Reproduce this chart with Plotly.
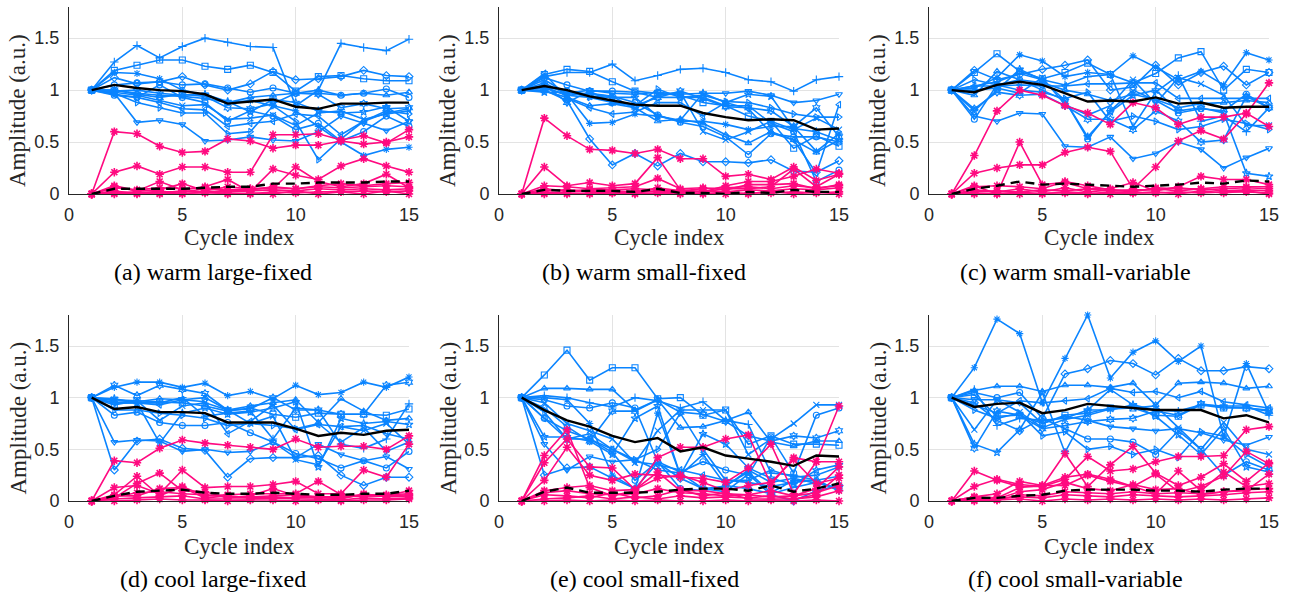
import plotly.graph_objects as go

cycles = list(range(1, 16))
x_ticks = [0, 5, 10, 15]
y_ticks = [0, 0.5, 1, 1.5]
y_tick_labels = ["0", "0.5", "1", "1.5"]
captions = ["(a) warm large-fixed", "(b) warm small-fixed", "(c) warm small-variable",
            "(d) cool large-fixed", "(e) cool small-fixed", "(f) cool small-variable"]
blue_symbols = ["cross-thin-open", "square-open", "diamond-open", "asterisk-open", "triangle-down-open",
                "circle-open", "triangle-right-open", "triangle-up-open", "x-thin-open",
                "triangle-left-open", "hexagram-open", "star-open", "circle-open"]

# ---------------- (a) warm large-fixed ----------------
a_blue = [
    [1, 1.27, 1.43, 1.31, 1.42, 1.50, 1.46, 1.42, 1.41, 0.85, 1.00, 1.45, 1.41, 1.38, 1.49],
    [1, 1.19, 1.24, 1.29, 1.29, 1.23, 1.20, 1.24, 1.17, 0.99, 1.13, 1.14, 1.11, 1.09, 1.09],
    [1, 1.12, 1.06, 1.08, 1.13, 1.05, 1.00, 1.06, 1.18, 1.10, 1.11, 1.13, 1.19, 1.14, 1.13],
    [1, 1.17, 1.16, 1.11, 1.00, 0.95, 0.88, 0.90, 0.85, 0.80, 0.65, 0.50, 0.37, 0.43, 0.45],
    [1, 0.97, 0.69, 0.71, 0.67, 0.51, 0.52, 0.55, 0.52, 0.51, 0.60, 0.75, 0.68, 0.61, 0.70],
    [1, 1.05, 1.07, 1.08, 1.05, 1.06, 1.02, 0.98, 1.02, 0.97, 0.97, 0.95, 0.97, 1.01, 0.93],
    [1, 0.97, 0.88, 0.83, 0.78, 0.78, 0.58, 0.60, 0.85, 0.70, 0.33, 0.53, 0.70, 0.80, 0.77],
    [1, 1.00, 0.97, 0.95, 0.94, 0.92, 0.88, 0.93, 0.95, 0.97, 1.00, 0.95, 0.97, 0.95, 0.98],
    [1, 0.98, 0.95, 0.90, 0.85, 0.86, 0.72, 0.73, 0.76, 0.66, 0.78, 0.80, 0.72, 0.77, 0.80],
    [1, 0.96, 0.93, 0.88, 0.82, 0.81, 0.65, 0.68, 0.70, 0.77, 0.75, 0.57, 0.70, 0.78, 0.82],
    [1, 1.00, 0.96, 0.93, 0.96, 0.94, 0.83, 0.82, 0.87, 0.97, 0.96, 0.83, 0.87, 0.82, 0.83],
    [1, 0.99, 1.00, 0.97, 0.95, 0.96, 0.89, 0.79, 0.91, 0.88, 0.80, 0.78, 0.79, 0.84, 0.70],
    [1, 0.95, 0.93, 1.05, 0.93, 0.88, 0.70, 0.80, 0.75, 0.62, 0.68, 0.51, 0.60, 0.75, 0.65],
]
a_pink = [
    [0, 0.60, 0.58, 0.46, 0.40, 0.41, 0.53, 0.51, 0.44, 0.47, 0.47, 0.51, 0.48, 0.50, 0.55],
    [0, 0.21, 0.27, 0.19, 0.26, 0.26, 0.21, 0.21, 0.57, 0.57, 0.58, 0.52, 0.56, 0.49, 0.62],
    [0, 0.08, 0.03, 0.12, 0.04, 0.07, 0.14, 0.02, 0.24, 0.18, 0.14, 0.27, 0.34, 0.27, 0.21],
    [0, 0.07, 0.03, 0.04, 0.10, 0.03, 0.07, 0.05, 0.05, 0.26, 0.12, 0.07, 0.10, 0.19, 0.06],
    [0, 0.02, 0.01, 0.02, 0.02, 0.05, 0.03, 0.04, 0.07, 0.05, 0.08, 0.10, 0.08, 0.10, 0.11],
    [0, 0.01, 0.02, 0.01, 0.03, 0.02, 0.02, 0.03, 0.04, 0.03, 0.05, 0.04, 0.05, 0.04, 0.05],
    [0, 0.00, 0.01, 0.00, 0.01, 0.01, 0.01, 0.00, 0.02, 0.01, 0.02, 0.02, 0.03, 0.02, 0.03],
    [0, 0.03, 0.00, 0.03, 0.00, 0.02, 0.00, 0.01, 0.00, 0.03, 0.00, 0.02, 0.00, 0.03, 0.00],
    [0, 0.06, 0.04, 0.06, 0.05, 0.06, 0.04, 0.05, 0.06, 0.05, 0.07, 0.06, 0.07, 0.08, 0.07],
]
a_mean = [1, 1.05, 1.02, 1.00, 0.99, 0.96, 0.87, 0.89, 0.91, 0.84, 0.82, 0.87, 0.87, 0.88, 0.88]
a_pink_mean = [0, 0.05, 0.05, 0.05, 0.05, 0.06, 0.07, 0.07, 0.10, 0.10, 0.11, 0.11, 0.11, 0.12, 0.12]

# ---------------- (b) warm small-fixed ----------------
b_blue = [
    [1, 1.13, 1.17, 1.17, 1.25, 1.09, 1.14, 1.20, 1.21, 1.17, 1.10, 1.08, 0.99, 1.10, 1.13],
    [1, 1.15, 1.20, 1.18, 1.08, 0.99, 0.97, 0.95, 0.88, 0.85, 0.75, 0.70, 0.44, 0.56, 0.46],
    [1, 1.00, 0.90, 0.53, 0.28, 0.39, 0.27, 0.39, 0.31, 0.31, 0.30, 0.33, 0.22, 0.21, 0.32],
    [1, 1.07, 0.96, 0.68, 0.69, 0.77, 0.75, 0.70, 0.70, 0.67, 0.62, 0.65, 0.65, 0.41, 0.58],
    [1, 1.10, 0.97, 1.00, 0.97, 0.96, 0.98, 0.96, 0.97, 0.97, 0.99, 0.95, 0.88, 0.90, 0.96],
    [1, 1.12, 1.05, 0.99, 0.99, 0.98, 0.93, 0.93, 0.93, 0.85, 0.85, 0.68, 0.60, 0.12, 0.23],
    [1, 1.03, 0.95, 0.93, 0.88, 0.85, 1.01, 0.93, 0.95, 0.89, 0.88, 0.83, 0.77, 0.74, 0.74],
    [1, 0.99, 0.93, 0.85, 0.87, 0.83, 0.70, 0.72, 0.68, 0.57, 0.49, 0.60, 0.52, 0.40, 0.52],
    [1, 1.02, 0.95, 0.97, 0.94, 0.82, 0.95, 0.98, 0.60, 0.52, 0.60, 0.70, 0.62, 0.73, 0.62],
    [1, 1.16, 0.92, 0.83, 0.77, 0.79, 0.88, 0.88, 0.75, 0.88, 0.82, 0.59, 0.52, 0.20, 0.86],
    [1, 1.05, 0.88, 0.99, 0.88, 0.85, 0.93, 0.99, 0.92, 0.84, 0.83, 0.80, 0.65, 0.83, 0.55],
    [1, 0.98, 0.98, 0.94, 0.93, 0.93, 0.75, 0.71, 0.97, 0.88, 0.96, 0.94, 0.63, 0.60, 0.52],
    [1, 1.03, 0.99, 0.96, 0.94, 0.88, 0.76, 0.69, 0.65, 0.55, 0.38, 0.58, 0.55, 0.55, 0.50],
]
b_pink = [
    [0, 0.73, 0.56, 0.43, 0.42, 0.39, 0.43, 0.34, 0.34, 0.17, 0.19, 0.14, 0.26, 0.13, 0.19],
    [0, 0.26, 0.08, 0.11, 0.08, 0.10, 0.35, 0.04, 0.02, 0.08, 0.12, 0.12, 0.17, 0.24, 0.20],
    [0, 0.08, 0.07, 0.05, 0.06, 0.07, 0.15, 0.05, 0.06, 0.04, 0.09, 0.09, 0.10, 0.05, 0.09],
    [0, 0.03, 0.04, 0.02, 0.03, 0.02, 0.06, 0.03, 0.02, 0.05, 0.05, 0.07, 0.24, 0.07, 0.19],
    [0, 0.01, 0.02, 0.03, 0.01, 0.03, 0.02, 0.01, 0.03, 0.02, 0.04, 0.03, 0.05, 0.04, 0.06],
    [0, 0.00, 0.01, 0.00, 0.01, 0.00, 0.01, 0.00, 0.01, 0.00, 0.01, 0.01, 0.02, 0.01, 0.02],
    [0, 0.02, 0.00, 0.01, 0.02, 0.01, 0.03, 0.02, 0.00, 0.02, 0.00, 0.03, 0.00, 0.02, 0.00],
    [0, 0.05, 0.03, 0.04, 0.04, 0.05, 0.04, 0.03, 0.05, 0.06, 0.07, 0.05, 0.08, 0.06, 0.08],
]
b_mean = [1, 1.04, 1.00, 0.94, 0.90, 0.86, 0.85, 0.85, 0.78, 0.74, 0.71, 0.72, 0.71, 0.62, 0.63]
b_pink_mean = [0, 0.04, 0.03, 0.03, 0.03, 0.02, 0.05, 0.01, 0.01, 0.00, 0.02, 0.01, 0.04, 0.02, 0.02]

# ---------------- (c) warm small-variable ----------------
c_blue = [
    [1, 1.04, 1.08, 1.16, 1.10, 1.05, 1.13, 1.15, 0.65, 0.98, 1.14, 0.70, 0.75, 0.60, 0.83],
    [1, 1.17, 1.35, 1.18, 1.11, 1.17, 1.26, 1.15, 1.07, 1.16, 1.31, 1.37, 1.00, 1.20, 1.17],
    [1, 1.19, 1.10, 1.15, 1.20, 1.24, 1.29, 1.00, 1.03, 1.24, 1.05, 1.17, 1.23, 1.05, 1.17],
    [1, 1.02, 1.12, 1.34, 1.28, 1.13, 1.17, 1.15, 1.33, 1.22, 1.10, 1.18, 1.05, 1.36, 1.29],
    [1, 0.75, 0.70, 0.78, 0.77, 0.46, 0.45, 0.55, 0.34, 0.39, 0.50, 0.43, 0.25, 0.35, 0.44],
    [1, 0.72, 1.05, 1.10, 1.00, 0.90, 0.53, 0.80, 1.00, 0.90, 0.78, 0.82, 0.80, 0.96, 0.83],
    [1, 1.10, 1.05, 1.00, 0.98, 0.92, 0.98, 0.70, 0.75, 0.70, 0.62, 0.65, 0.72, 0.68, 0.62],
    [1, 0.95, 1.18, 1.10, 1.07, 1.00, 0.96, 0.90, 0.96, 0.91, 0.83, 0.87, 0.88, 0.90, 0.88],
    [1, 1.00, 1.02, 0.97, 1.12, 0.86, 0.76, 0.85, 1.10, 0.87, 1.12, 1.06, 0.95, 0.66, 0.66],
    [1, 1.04, 1.04, 1.05, 1.04, 1.04, 1.06, 1.06, 1.07, 1.07, 0.92, 0.92, 0.92, 0.92, 0.92],
    [1, 0.82, 0.98, 0.95, 0.96, 0.85, 0.72, 0.72, 0.62, 0.80, 0.70, 0.50, 0.52, 0.94, 0.83],
    [1, 0.80, 1.00, 1.20, 1.10, 0.90, 0.55, 0.79, 0.95, 1.00, 0.80, 0.83, 0.78, 0.20, 0.17],
]
c_pink = [
    [0, 0.37, 0.80, 1.00, 0.95, 0.85, 0.78, 0.67, 0.88, 0.83, 0.67, 0.74, 0.74, 0.78, 0.65],
    [0, 0.20, 0.25, 0.28, 0.28, 0.40, 0.45, 0.41, 0.05, 0.26, 0.51, 0.61, 0.53, 0.77, 1.07],
    [0, 0.08, 0.00, 0.50, 0.09, 0.11, 0.05, 0.05, 0.11, 0.03, 0.07, 0.17, 0.14, 0.14, 0.09],
    [0, 0.07, 0.08, 0.07, 0.05, 0.12, 0.08, 0.04, 0.02, 0.06, 0.05, 0.05, 0.07, 0.07, 0.07],
    [0, 0.02, 0.03, 0.02, 0.04, 0.03, 0.05, 0.03, 0.04, 0.04, 0.06, 0.04, 0.05, 0.06, 0.05],
    [0, 0.00, 0.01, 0.00, 0.01, 0.01, 0.00, 0.02, 0.01, 0.01, 0.02, 0.01, 0.02, 0.02, 0.01],
    [0, 0.04, 0.02, 0.05, 0.02, 0.06, 0.02, 0.04, 0.03, 0.05, 0.03, 0.05, 0.03, 0.04, 0.03],
    [0, 0.01, 0.00, 0.02, 0.00, 0.02, 0.01, 0.00, 0.01, 0.02, 0.00, 0.03, 0.01, 0.03, 0.00],
]
c_mean = [1, 0.98, 1.05, 1.08, 1.05, 0.97, 0.89, 0.90, 0.89, 0.93, 0.87, 0.88, 0.83, 0.84, 0.84]
c_pink_mean = [0, 0.05, 0.08, 0.12, 0.09, 0.10, 0.09, 0.08, 0.07, 0.08, 0.09, 0.11, 0.10, 0.13, 0.12]

# ---------------- (d) cool large-fixed ----------------
d_blue = [
    [1, 0.95, 0.95, 0.95, 1.00, 0.82, 0.85, 0.87, 0.60, 0.90, 0.88, 0.55, 0.51, 0.60, 0.94],
    [1, 0.93, 0.97, 0.96, 0.95, 0.92, 0.87, 0.90, 0.84, 0.81, 0.85, 0.84, 0.84, 0.83, 0.89],
    [1, 0.30, 0.58, 0.60, 0.51, 0.49, 0.23, 0.41, 0.42, 0.42, 0.44, 0.25, 0.15, 0.23, 0.23],
    [1, 1.10, 1.15, 1.15, 1.10, 1.14, 1.02, 1.06, 0.99, 1.12, 1.03, 1.05, 1.15, 1.10, 1.20],
    [1, 0.57, 0.59, 0.58, 0.48, 0.50, 0.47, 0.48, 0.57, 0.42, 0.55, 0.45, 0.39, 0.43, 0.31],
    [1, 0.83, 0.86, 0.76, 0.73, 0.73, 0.76, 0.66, 0.57, 0.46, 0.41, 0.32, 0.39, 0.32, 0.48],
    [1, 0.88, 0.88, 0.85, 0.83, 0.80, 0.73, 0.75, 0.73, 0.70, 0.75, 0.57, 0.71, 0.48, 0.57],
    [1, 0.97, 0.96, 0.99, 0.98, 1.00, 0.88, 0.92, 0.95, 0.98, 0.76, 0.99, 0.87, 0.78, 0.80],
    [1, 0.98, 0.97, 0.78, 0.92, 0.95, 0.88, 0.75, 0.82, 0.40, 0.35, 0.72, 0.68, 0.75, 0.55],
    [1, 0.95, 0.95, 0.93, 0.98, 0.96, 0.65, 0.77, 0.93, 0.69, 0.74, 0.72, 0.73, 0.65, 0.60],
    [1, 1.12, 1.02, 1.12, 1.08, 1.04, 0.88, 0.89, 1.00, 0.88, 0.88, 0.84, 0.84, 1.12, 1.15],
    [1, 0.99, 0.95, 0.56, 0.85, 0.90, 0.84, 0.86, 0.90, 0.96, 0.33, 0.80, 0.75, 0.77, 0.74],
]
d_pink = [
    [0, 0.39, 0.37, 0.51, 0.59, 0.56, 0.54, 0.52, 0.50, 0.60, 0.52, 0.53, 0.53, 0.50, 0.63],
    [0, 0.13, 0.15, 0.07, 0.30, 0.13, 0.14, 0.14, 0.16, 0.19, 0.07, 0.07, 0.30, 0.23, 0.55],
    [0, 0.06, 0.24, 0.05, 0.14, 0.05, 0.06, 0.07, 0.07, 0.07, 0.19, 0.06, 0.05, 0.05, 0.10],
    [0, 0.03, 0.17, 0.27, 0.10, 0.09, 0.03, 0.05, 0.12, 0.05, 0.03, 0.03, 0.06, 0.06, 0.07],
    [0, 0.05, 0.05, 0.12, 0.13, 0.03, 0.05, 0.03, 0.04, 0.03, 0.04, 0.02, 0.07, 0.04, 0.05],
    [0, 0.02, 0.03, 0.04, 0.05, 0.02, 0.02, 0.02, 0.03, 0.02, 0.02, 0.01, 0.03, 0.02, 0.03],
    [0, 0.00, 0.01, 0.02, 0.01, 0.01, 0.00, 0.01, 0.01, 0.00, 0.01, 0.00, 0.01, 0.01, 0.02],
    [0, 0.04, 0.08, 0.09, 0.07, 0.06, 0.04, 0.04, 0.05, 0.06, 0.04, 0.04, 0.05, 0.05, 0.06],
]
d_mean = [1, 0.89, 0.91, 0.86, 0.86, 0.85, 0.76, 0.76, 0.76, 0.70, 0.63, 0.66, 0.64, 0.68, 0.69]
d_pink_mean = [0, 0.05, 0.09, 0.10, 0.11, 0.08, 0.07, 0.07, 0.08, 0.07, 0.06, 0.06, 0.07, 0.07, 0.10]

# ---------------- (e) cool small-fixed ----------------
e_blue = [
    [1, 1.02, 1.00, 0.95, 0.91, 1.00, 0.97, 0.90, 0.96, 0.78, 0.74, 0.27, 0.25, 0.20, 0.10],
    [1, 1.22, 1.46, 1.17, 1.29, 1.29, 0.99, 1.00, 0.83, 0.88, 0.55, 0.63, 0.55, 0.55, 0.54],
    [1, 0.25, 0.32, 0.33, 0.22, 0.12, 0.37, 0.22, 0.12, 0.09, 0.26, 0.06, 0.00, 0.10, 0.15],
    [1, 1.00, 0.98, 0.75, 0.25, 0.12, 0.85, 0.25, 0.45, 0.15, 0.28, 0.08, 0.20, 0.20, 0.10],
    [1, 0.55, 0.30, 0.43, 0.38, 0.40, 0.30, 0.27, 0.12, 0.14, 0.30, 0.18, 0.22, 0.17, 0.13],
    [1, 0.98, 0.92, 0.90, 0.95, 0.90, 0.38, 0.28, 0.38, 0.30, 0.25, 0.62, 0.27, 0.83, 0.90],
    [1, 0.86, 0.60, 0.65, 0.50, 0.40, 0.50, 0.85, 0.50, 0.20, 0.20, 0.30, 0.23, 0.25, 0.33],
    [1, 1.09, 1.09, 1.08, 1.08, 0.88, 0.98, 0.71, 0.72, 0.78, 0.86, 0.57, 0.53, 0.58, 0.58],
    [1, 0.95, 0.75, 0.68, 0.60, 0.37, 0.68, 0.88, 0.88, 0.88, 0.45, 0.60, 0.75, 0.93, 0.93],
    [1, 0.80, 0.60, 0.60, 0.50, 0.38, 0.35, 0.30, 0.25, 0.20, 0.18, 0.14, 0.18, 0.20, 0.24],
    [1, 0.90, 0.72, 0.58, 0.87, 0.87, 0.98, 0.86, 0.84, 0.77, 0.63, 0.58, 0.63, 0.61, 0.68],
    [1, 0.62, 0.62, 0.58, 0.45, 0.80, 0.92, 0.25, 0.65, 0.55, 0.32, 0.22, 0.16, 0.30, 0.35],
    [1, 0.80, 0.68, 0.60, 0.47, 0.20, 0.38, 0.12, 0.10, 0.15, 0.12, 0.07, 0.13, 0.18, 0.12],
]
e_pink = [
    [0, 0.44, 0.69, 0.13, 0.05, 0.10, 0.42, 0.52, 0.52, 0.60, 0.64, 0.16, 0.42, 0.38, 0.92],
    [0, 0.20, 0.52, 0.25, 0.20, 0.26, 0.25, 0.23, 0.22, 0.18, 0.32, 0.55, 0.07, 0.38, 0.38],
    [0, 0.37, 0.60, 0.33, 0.32, 0.11, 0.22, 0.25, 0.18, 0.10, 0.15, 0.18, 0.40, 0.17, 0.22],
    [0, 0.10, 0.13, 0.15, 0.10, 0.11, 0.28, 0.10, 0.10, 0.07, 0.06, 0.10, 0.05, 0.12, 0.33],
    [0, 0.06, 0.05, 0.03, 0.08, 0.03, 0.05, 0.11, 0.05, 0.08, 0.02, 0.02, 0.02, 0.06, 0.25],
    [0, 0.02, 0.03, 0.05, 0.02, 0.04, 0.02, 0.05, 0.03, 0.04, 0.03, 0.05, 0.02, 0.04, 0.10],
    [0, 0.00, 0.01, 0.00, 0.01, 0.00, 0.01, 0.00, 0.00, 0.01, 0.00, 0.01, 0.00, 0.01, 0.00],
    [0, 0.08, 0.10, 0.07, 0.06, 0.07, 0.12, 0.08, 0.07, 0.05, 0.06, 0.04, 0.05, 0.08, 0.15],
]
e_mean = [1, 0.88, 0.78, 0.72, 0.63, 0.57, 0.61, 0.48, 0.52, 0.44, 0.41, 0.38, 0.34, 0.44, 0.43]
e_pink_mean = [0, 0.09, 0.13, 0.08, 0.08, 0.08, 0.09, 0.11, 0.12, 0.12, 0.10, 0.15, 0.09, 0.12, 0.17]

# ---------------- (f) cool small-variable ----------------
f_blue = [
    [1, 1.08, 0.73, 0.80, 0.78, 0.80, 0.88, 0.88, 0.93, 0.88, 0.87, 0.93, 0.92, 0.92, 0.83],
    [1, 1.03, 0.82, 0.83, 0.75, 0.83, 0.85, 0.90, 0.90, 0.83, 0.82, 0.93, 0.90, 0.90, 0.88],
    [1, 0.95, 0.78, 0.68, 0.80, 1.23, 1.28, 1.36, 1.33, 1.22, 1.38, 1.26, 1.26, 1.30, 1.28],
    [1, 1.29, 1.76, 1.62, 0.95, 1.38, 1.80, 1.19, 1.44, 1.55, 1.35, 1.50, 0.62, 1.33, 0.85],
    [1, 0.98, 0.98, 0.95, 0.75, 0.82, 0.78, 0.72, 0.70, 0.68, 0.70, 0.66, 0.59, 0.54, 0.62],
    [1, 1.05, 1.00, 1.05, 0.80, 0.70, 0.60, 0.60, 0.57, 0.45, 0.68, 0.50, 0.25, 0.38, 0.30],
    [1, 0.88, 0.80, 0.85, 0.63, 0.67, 0.50, 0.53, 0.45, 0.50, 0.42, 0.67, 0.63, 0.45, 0.33],
    [1, 1.07, 1.11, 1.11, 1.06, 1.12, 1.12, 1.10, 1.14, 0.93, 1.14, 1.15, 1.14, 1.09, 1.11],
    [1, 0.69, 0.98, 0.86, 0.71, 0.79, 0.83, 0.89, 0.90, 0.92, 0.71, 0.50, 0.76, 0.50, 0.45],
    [1, 0.93, 0.85, 0.97, 0.95, 0.97, 0.99, 1.09, 1.05, 1.06, 1.00, 1.06, 0.96, 0.93, 0.90],
    [1, 0.51, 0.87, 0.83, 0.70, 0.73, 0.77, 0.79, 0.80, 0.87, 0.83, 0.94, 0.91, 0.90, 0.87],
    [1, 0.55, 0.47, 0.69, 1.05, 0.47, 0.88, 1.08, 0.93, 0.82, 0.64, 0.45, 0.70, 0.33, 0.28],
]
f_pink = [
    [0, 0.29, 0.20, 0.14, 0.14, 0.46, 0.14, 0.35, 0.53, 0.27, 0.15, 0.23, 0.36, 0.19, 0.37],
    [0, 0.14, 0.21, 0.16, 0.14, 0.21, 0.43, 0.29, 0.31, 0.38, 0.43, 0.43, 0.44, 0.69, 0.72],
    [0, 0.04, 0.07, 0.19, 0.15, 0.23, 0.26, 0.21, 0.14, 0.26, 0.09, 0.14, 0.24, 0.48, 0.36],
    [0, 0.04, 0.03, 0.13, 0.15, 0.15, 0.25, 0.19, 0.14, 0.07, 0.29, 0.10, 0.28, 0.14, 0.17],
    [0, 0.02, 0.02, 0.09, 0.11, 0.18, 0.12, 0.10, 0.16, 0.11, 0.12, 0.06, 0.09, 0.10, 0.26],
    [0, 0.01, 0.02, 0.04, 0.03, 0.06, 0.05, 0.04, 0.06, 0.05, 0.04, 0.05, 0.06, 0.08, 0.09],
    [0, 0.00, 0.01, 0.02, 0.00, 0.02, 0.01, 0.02, 0.01, 0.02, 0.01, 0.02, 0.01, 0.02, 0.03],
    [0, 0.03, 0.01, 0.06, 0.05, 0.09, 0.08, 0.07, 0.09, 0.07, 0.08, 0.07, 0.09, 0.11, 0.12],
]
f_mean = [1, 0.91, 0.94, 0.95, 0.85, 0.88, 0.94, 0.92, 0.90, 0.88, 0.88, 0.88, 0.80, 0.83, 0.76]
f_pink_mean = [0, 0.03, 0.03, 0.05, 0.06, 0.10, 0.11, 0.11, 0.11, 0.10, 0.10, 0.09, 0.11, 0.12, 0.12]

panels = [
    (a_blue, a_pink, a_mean, a_pink_mean),
    (b_blue, b_pink, b_mean, b_pink_mean),
    (c_blue, c_pink, c_mean, c_pink_mean),
    (d_blue, d_pink, d_mean, d_pink_mean),
    (e_blue, e_pink, e_mean, e_pink_mean),
    (f_blue, f_pink, f_mean, f_pink_mean),
]

BLUE = "#0a84ff"
PINK = "#ff0a80"
W, H = 1290, 594
col_px = [(69, 409), (499, 839), (929, 1269)]
row_px = [(7, 194), (315, 501)]  # top, bottom (pixel y)
xtitle_py = [238, 546]
cap_py = [272, 579]
cap_px = [213, 644, 1075]
ytitle_px = [18, 448, 878]

fig = go.Figure()
layout = dict(width=W, height=H, margin=dict(l=0, r=0, t=0, b=0),
              paper_bgcolor="white", plot_bgcolor="white", showlegend=False)
annotations = []
serif = "Liberation Serif"
sans = "Liberation Sans"

for i, (blues, pinks, mean, pmean) in enumerate(panels):
    r, c = divmod(i, 3)
    xa = "xaxis" if i == 0 else f"xaxis{i+1}"
    ya = "yaxis" if i == 0 else f"yaxis{i+1}"
    xr = "x" if i == 0 else f"x{i+1}"
    yr = "y" if i == 0 else f"y{i+1}"
    for k, s in enumerate(blues):
        fig.add_trace(go.Scatter(x=cycles, y=s, xaxis=xr, yaxis=yr, mode="lines+markers",
                                 line=dict(color=BLUE, width=1.6), cliponaxis=False,
                                 marker=dict(symbol=blue_symbols[k % len(blue_symbols)], size=6,
                                             color=BLUE, line=dict(color=BLUE, width=1.1))))
    for s in pinks:
        fig.add_trace(go.Scatter(x=cycles, y=s, xaxis=xr, yaxis=yr, mode="lines+markers",
                                 line=dict(color=PINK, width=1.6), cliponaxis=False,
                                 marker=dict(symbol="asterisk-open", size=7,
                                             color=PINK, line=dict(color=PINK, width=1.6))))
    fig.add_trace(go.Scatter(x=cycles, y=mean, xaxis=xr, yaxis=yr, mode="lines",
                             line=dict(color="black", width=2.4), cliponaxis=False))
    fig.add_trace(go.Scatter(x=cycles, y=pmean, xaxis=xr, yaxis=yr, mode="lines",
                             line=dict(color="black", width=2.4, dash="9px,6px"), cliponaxis=False))

    x0, x1 = col_px[c]
    yt, yb = row_px[r]
    layout[xa] = dict(domain=[x0 / W, x1 / W], range=[0, 15], anchor=yr, automargin=False,
                      tickvals=x_ticks, ticktext=[str(v) for v in x_ticks],
                      showgrid=True, gridcolor="#e3e3e3", gridwidth=1, zeroline=False,
                      showline=True, linecolor="#262626", linewidth=1, ticks="",
                      ticklabelstandoff=4,
                      tickfont=dict(family=sans, size=18, color="#262626"))
    layout[ya] = dict(domain=[(H - yb) / H, (H - yt) / H], range=[0, 1.8], anchor=xr, automargin=False,
                      tickvals=y_ticks, ticktext=y_tick_labels,
                      showgrid=True, gridcolor="#e3e3e3", gridwidth=1, zeroline=False,
                      showline=True, linecolor="#262626", linewidth=1, ticks="",
                      ticklabelstandoff=5,
                      tickfont=dict(family=sans, size=18, color="#262626"))
    xc = (x0 + x1) / 2 / W
    annotations.append(dict(text="Cycle index", x=xc, y=(H - xtitle_py[r]) / H, xref="paper", yref="paper",
                            showarrow=False, xanchor="center", yanchor="middle",
                            font=dict(family=serif, size=23, color="#262626")))
    annotations.append(dict(text=captions[i], x=cap_px[c] / W, y=(H - cap_py[r]) / H, xref="paper", yref="paper",
                            showarrow=False, xanchor="center", yanchor="middle",
                            font=dict(family=serif, size=24, color="black")))
    annotations.append(dict(text="Amplitude (a.u.)", x=ytitle_px[c] / W, y=(H - (yt + 21 + yb) / 2) / H,
                            xref="paper", yref="paper", textangle=-90,
                            showarrow=False, xanchor="center", yanchor="middle",
                            font=dict(family=serif, size=23, color="#262626")))

layout["annotations"] = annotations
fig.update_layout(**layout)
fig.write_html("out.html", config={"displayModeBar": False},
               post_script="document.body.style.margin='0';document.body.style.overflow='hidden';")
